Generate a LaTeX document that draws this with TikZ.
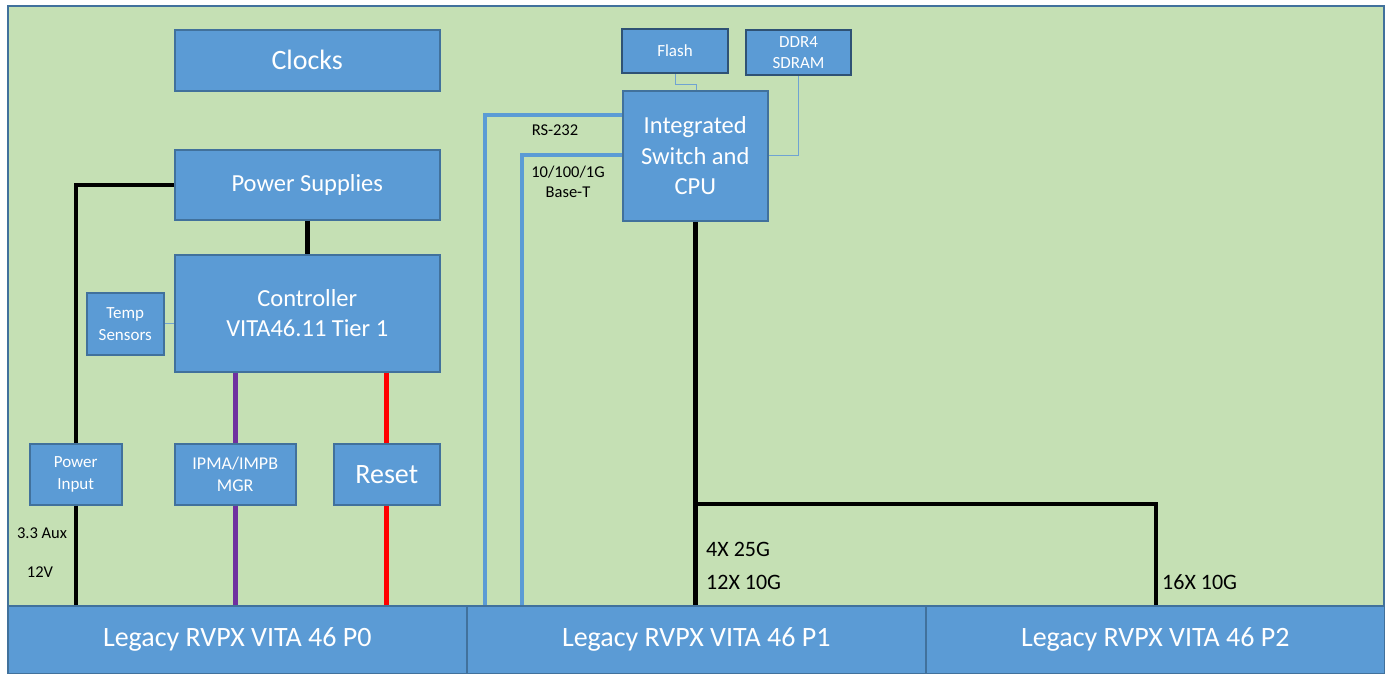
\documentclass[tikz,border=0pt]{standalone}
\usepackage{fontspec}
\setmainfont{Carlito}
\definecolor{board}{HTML}{C5E0B4}
\definecolor{boxfill}{HTML}{5B9BD5}
\definecolor{boxline}{HTML}{41719C}
\definecolor{darkline}{HTML}{2F5275}
\definecolor{thinline}{HTML}{6FA3D2}
\definecolor{purp}{HTML}{7030A0}
\begin{document}
\begin{tikzpicture}[x=1pt,y=-1pt,
  box/.style={draw=boxline, line width=1.5pt, fill=boxfill, text=white, anchor=north west, align=center, inner sep=0pt},
  memory/.style={box, draw=darkline, line width=2pt},
  big/.style={font=\fontsize{28}{32}\selectfont},
  mid/.style={font=\fontsize{24.5}{30.5}\selectfont},
  small/.style={font=\fontsize{17}{22}\selectfont},
  lbl/.style={font=\fontsize{16.5}{20}\selectfont, text=black, inner sep=0pt},
  lblbig/.style={font=\fontsize{22}{26}\selectfont, text=black, inner sep=0pt, anchor=west},
  wire/.style={line width=4.5pt},
  thin/.style={draw=thinline, line width=1pt},
  eth/.style={draw=boxfill, line width=4.5pt}
]
\useasboundingbox (0,0) rectangle (1385,673);
\fill[white] (0,0) rectangle (1385,673);
% board
\node[draw=boxline, line width=1.5pt, fill=board, anchor=north west, minimum width=1376pt, minimum height=600pt, inner sep=0pt] (board) at (7,5) {};
% connectors
\node[box, big, minimum width=459pt, minimum height=68pt] (p0) at (7,605) {\raisebox{-3pt}{Legacy RVPX VITA 46 P0}};
\node[box, big, minimum width=459pt, minimum height=68pt] (p1) at (466,605) {\raisebox{-3pt}{Legacy RVPX VITA 46 P1}};
\node[box, big, minimum width=459pt, minimum height=68pt] (p2) at (925,605) {\raisebox{-3pt}{Legacy RVPX VITA 46 P2}};
% boxes
\node[box, big, minimum width=265pt, minimum height=61pt] (clocks) at (174,29) {Clocks};
\node[box, mid, minimum width=265pt, minimum height=70pt] (ps) at (174,149) {Power Supplies};
\node[box, mid, minimum width=265pt, minimum height=117pt] (ctrl) at (174,254) {Controller\\VITA46.11 Tier 1};
\node[box, small, minimum width=77pt, minimum height=62pt] (temp) at (86,292) {Temp\\Sensors};
\node[box, small, minimum width=92pt, minimum height=61pt] (pin) at (29,443) {Power\\Input};
\node[box, small, font=\fontsize{18}{22}\selectfont, minimum width=121pt, minimum height=61pt] (ipm) at (174,443) {IPMA/IMPB\\MGR};
\node[box, big, minimum width=106pt, minimum height=61pt] (reset) at (333,443) {Reset};
\node[memory, small, minimum width=106pt, minimum height=44pt] (flash) at (621,28) {Flash};
\node[memory, small, font=\fontsize{17}{21}\selectfont, minimum width=105pt, minimum height=45pt] (ddr) at (745,29) {DDR4\\SDRAM};
\node[box, mid, minimum width=145pt, minimum height=130pt] (cpu) at (622,90) {Integrated\\Switch and\\CPU};
% coordinates on connector tops
\coordinate (rsend) at (485,605);
\coordinate (ethend) at (522,605);
\coordinate (br) at (695,504);
\coordinate (p2in) at (1156,605);
% wires
\draw[wire] (ps.west) -| (pin.north);
\draw[wire] (pin.south) -- (pin.south |- p0.north);
\draw[wire] (ps.south) -- (ps.south |- ctrl.north);
\draw[wire, purp] (ipm.north |- ctrl.south) -- (ipm.north);
\draw[wire, purp] (ipm.south) -- (ipm.south |- p0.north);
\draw[wire, red] ([xshift=-0.5pt]reset.north |- ctrl.south) -- ([xshift=-0.5pt]reset.north);
\draw[wire, red] ([xshift=-0.5pt]reset.south) -- ([xshift=-0.5pt]reset.south |- p0.north);
\draw[thin] (temp.east) -- (temp.east -| ctrl.west);
\draw[thin] (flash.south) -- ++(0,10) -| ([xshift=1pt]cpu.north);
\draw[thin] (ddr.south) |- (cpu.east);
\draw[eth] ([yshift=-25pt]cpu.north west) -| (rsend);
\draw[eth] ([yshift=-65pt]cpu.north west) -| (ethend);
\draw[wire] (cpu.south) -- (cpu.south |- p1.north);
\draw[wire] (br) -| (p2in);
% labels
\node[lbl] (rs) at (555,130) {RS-232};
\node[lbl, align=center] (ethl) at (568,182) {10/100/1G\\Base-T};
\node[lbl] (aux) at (42,533) {3.3 Aux};
\node[lbl] (v12) at (40,572) {12V};
\node[lblbig] (l25) at (706,549) {4X 25G};
\node[lblbig] (l10) at (706,582) {12X 10G};
\node[lblbig] (l16) at (1162,582) {16X 10G};
\end{tikzpicture}
\end{document}
